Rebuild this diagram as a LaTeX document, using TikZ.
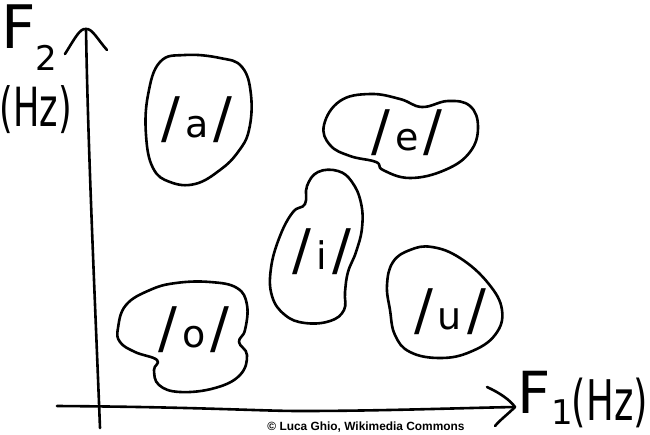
\documentclass[tikz,border=0pt]{standalone}
\usepackage{fontspec}
\usepackage{graphicx}
\setmainfont{Liberation Sans}
\newfontfamily\hand{DejaVu Sans}
\newcommand\phonlabel[1]{{\fontsize{56}{56}\selectfont/}\hspace{5pt}{\fontsize{38}{38}\selectfont #1}\hspace{5pt}{\fontsize{56}{56}\selectfont/}}
\begin{document}
\begin{tikzpicture}[x=1pt,y=-1pt,
  stroke/.style={line width=2.6pt, line cap=round, line join=round},
  blob/.style={stroke},
  handtxt/.style={inner sep=0pt, font=\hand},
  phon/.style={inner sep=0pt, font=\hand}]
\useasboundingbox[fill=white] (0,0) rectangle (650,434);
% axes
\coordinate (yb) at (100,428);
\coordinate (yt) at (86,29);
\coordinate (ya1) at (65,54);
\coordinate (ya2) at (107,50);
\coordinate (xl) at (57,406);
\coordinate (xm) at (300,411);
\coordinate (xr) at (515,407);
\coordinate (xa1) at (487,387);
\coordinate (xa2) at (495,426);
\draw[stroke] (yb) .. controls (95,300) and (88,150) .. (yt);
\draw[stroke] (ya1) .. controls (75,38) and (80,28) .. (yt) .. controls (92,28) and (98,40) .. (ya2);
\draw[stroke] (xl) .. controls (200,407) and (260,411) .. (xm) .. controls (380,411) and (460,408) .. (xr);
\draw[stroke] (xa1) .. controls (500,393) and (510,400) .. (xr) .. controls (508,414) and (500,420) .. (xa2);
% axis labels
\node[handtxt, font=\hand\fontsize{60}{60}\selectfont] (f2F) at (19,27) {F};
\node[handtxt, font=\hand\fontsize{34}{34}\selectfont] (f2s) at (46,58) {2};
\node[handtxt, font=\hand\fontsize{54}{54}\selectfont] (f2u) at (36,110) {\scalebox{0.65}[1]{(Hz)}};
\node[handtxt, font=\hand\fontsize{58}{58}\selectfont] (f1F) at (534,392) {F};
\node[handtxt, font=\hand\fontsize{34}{34}\selectfont] (f1s) at (562,412) {1};
\node[handtxt, font=\hand\fontsize{56}{56}\selectfont] (f1u) at (610,403) {\scalebox{0.66}[1]{(Hz)}};
% blobs
\draw[blob] plot[smooth cycle, tension=0.7] coordinates {(148,95) (160,62) (185,55) (220,58) (242,67) (251,95) (249,130) (238,152) (220,170) (195,184) (170,182) (153,168) (146,135)};
\draw[blob] plot[smooth cycle, tension=0.7] coordinates {(324,125) (340,101) (370,94) (400,99) (422,107) (448,101) (470,106) (478,127) (470,152) (445,170) (410,178) (383,170) (376,162) (350,156) (330,145)};
\draw[blob] plot[smooth cycle, tension=0.7] coordinates {(318,172) (338,171) (352,182) (361,203) (362,228) (356,252) (348,272) (345,292) (344,310) (330,321) (305,323) (285,315) (272,296) (271,268) (280,236) (293,212) (305,204) (307,186)};
\draw[blob] plot[smooth cycle, tension=0.7] coordinates {(118,328) (126,305) (150,290) (176,283) (210,282) (237,288) (247,305) (245,330) (239,342) (247,355) (240,375) (215,388) (180,392) (159,385) (154,370) (157,360) (135,352) (120,342)};
\draw[blob] plot[smooth cycle, tension=0.7] coordinates {(387,285) (393,262) (410,250) (432,247) (460,258) (488,283) (502,310) (495,335) (470,352) (440,358) (410,352) (395,335) (390,310)};
% phoneme labels
\node[phon] (pa) at (197,120) {\phonlabel{a}};
\node[phon] (pe) at (407,133) {\phonlabel{e}};
\node[phon] (pi) at (322,252) {\phonlabel{i}};
\node[phon] (po) at (194,330) {\phonlabel{o}};
\node[phon] (pu) at (450,312) {\phonlabel{u}};
% credit
\node[inner sep=0pt, font=\bfseries\fontsize{11.9}{12}\selectfont] (credit) at (366,427) {© Luca Ghio, Wikimedia Commons};
\end{tikzpicture}
\end{document}
